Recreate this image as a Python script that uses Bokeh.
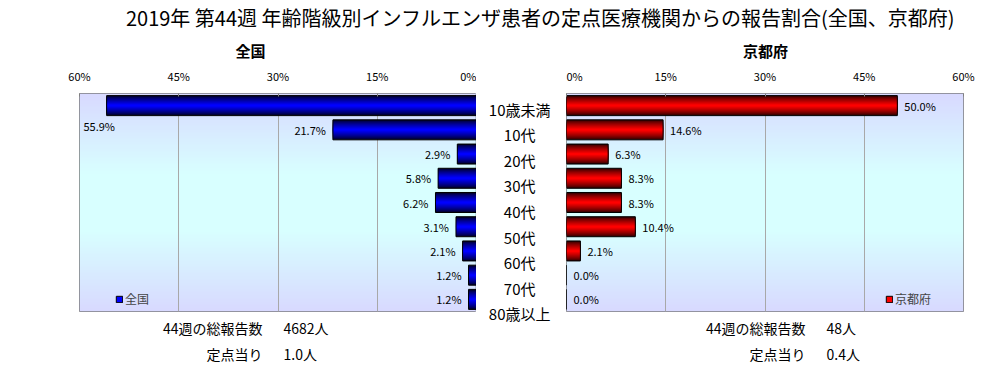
import numpy as np
from bokeh.plotting import figure
from bokeh.models import (Range1d, FactorRange, FixedTicker, Label, Legend,
                          LegendItem, ColumnDataSource)
from bokeh.layouts import column, row
from bokeh.embed import file_html
from bokeh.resources import INLINE
from bokeh.core.properties import value

# ---------------- data ----------------
main_title = "2019年 第44週 年齢階級別インフルエンザ患者の定点医療機関からの報告割合(全国、京都府)"
categories = ["10歳未満", "10代", "20代", "30代", "40代", "50代", "60代", "70代", "80歳以上"]
national = [55.9, 21.7, 2.9, 5.8, 6.2, 3.1, 2.1, 1.2, 1.2]
kyoto = [50.0, 14.6, 6.3, 8.3, 8.3, 10.4, 2.1, 0.0, 0.0]
tick_values = [0, 15, 30, 45, 60]
tick_labels = ["0%", "15%", "30%", "45%", "60%"]
panel_titles = ["全国", "京都府"]
summary_labels = ["44週の総報告数", "定点当り"]
national_summary = ["4682人", "1.0人"]
kyoto_summary = ["48人", "0.4人"]

JP = "Noto Sans CJK JP"
AXMAX = 60
factors = list(reversed(categories))


def blank(width, height):
    f = figure(width=width, height=height, x_range=Range1d(0, 1), y_range=Range1d(0, 1),
               x_axis_location=None, y_axis_location=None,
               toolbar_location=None, output_backend="svg", min_border=0)
    f.outline_line_color = None
    f.xgrid.visible = False
    f.ygrid.visible = False
    return f


def make_panel(vals, reverse, dark, bright, legend_label, width, mbl, mbr, legend_x):
    xr = Range1d(AXMAX, 0) if reverse else Range1d(0, AXMAX)
    p = figure(width=width, height=256, x_range=xr,
               y_range=FactorRange(factors=factors),
               x_axis_location="above", y_axis_location=None,
               toolbar_location=None, output_backend="svg",
               min_border_left=mbl, min_border_right=mbr,
               min_border_top=31, min_border_bottom=7)
    p.outline_line_color = "#808080"
    p.outline_line_width = 1
    p.border_fill_color = "white"

    # gradient background (lavender -> cyan -> lavender)
    n = 218
    edges = np.linspace(0, len(categories), n + 1)
    centers = (edges[:-1] + edges[1:]) / 2
    t = 1 - centers / len(categories)
    g = 204 + 51 * np.clip((1 - np.abs(2 * t - 1)) * 1.35, 0, 1)
    cols = ["#%02x%02x%02x" % (204, int(round(v)), 255) for v in g]
    bg = p.quad(left=0, right=AXMAX, bottom=edges[:-1], top=edges[1:],
                fill_color=cols, line_color=None)
    bg.level = "image"

    # axis
    ax = p.xaxis[0]
    ax.ticker = FixedTicker(ticks=tick_values)
    ax.major_label_overrides = {v: l for v, l in zip(tick_values, tick_labels)}
    ax.axis_line_color = None
    ax.major_tick_out = 0
    ax.major_tick_in = 3
    ax.major_tick_line_color = "#808080"
    ax.minor_tick_line_color = None
    ax.major_label_text_font = JP
    ax.major_label_text_font_size = "11px"
    ax.major_label_text_color = "black"
    ax.major_label_standoff = 10
    p.xgrid.ticker = FixedTicker(ticks=tick_values)
    p.xgrid.grid_line_color = "#a8a8a8"
    p.ygrid.grid_line_color = None

    src = ColumnDataSource(dict(y=categories, v=vals,
                                lab=["%.1f%%" % v for v in vals]))
    # gradient bars: layered hbars, dark at edges, bright in centre
    H = 0.826
    K = 10
    layers = []
    for k in range(K):
        f = (k / (K - 1)) ** 0.8
        c = tuple(int(round(d + (b - d) * f)) for d, b in zip(dark, bright))
        layers.append(p.hbar(y="y", left=0, right="v", height=H * (1 - k / K), source=src,
                             fill_color="#%02x%02x%02x" % c, line_color=None))
    outline = p.hbar(y="y", left=0, right="v", height=H, source=src,
                     fill_color=None, line_color="black", line_width=1)

    # value labels
    if reverse:
        fit = [v < 52 for v in vals]
        s_fit = ColumnDataSource(dict(y=[c for c, f in zip(categories, fit) if f],
                                      v=[v for v, f in zip(vals, fit) if f],
                                      lab=["%.1f%%" % v for v, f in zip(vals, fit) if f]))
        s_out = ColumnDataSource(dict(y=[c for c, f in zip(categories, fit) if not f],
                                      v=[AXMAX for v, f in zip(vals, fit) if not f],
                                      lab=["%.1f%%" % v for v, f in zip(vals, fit) if not f]))
        p.text(x="v", y="y", text="lab", source=s_fit, x_offset=-7,
               text_align="right", text_baseline="middle",
               text_font=value(JP), text_font_size="11px", text_color="black")
        p.text(x="v", y="y", text="lab", source=s_out, x_offset=4, y_offset=20,
               text_align="left", text_baseline="middle",
               text_font=value(JP), text_font_size="11px", text_color="black")
    else:
        p.text(x="v", y="y", text="lab", source=src, x_offset=7,
               text_align="left", text_baseline="middle",
               text_font=value(JP), text_font_size="11px", text_color="black")

    # legend
    leg = Legend(items=[LegendItem(label=legend_label, renderers=[layers[-1], outline])],
                 location=(legend_x, 4), glyph_width=8, glyph_height=8,
                 label_height=8, label_width=0, label_standoff=2,
                 padding=0, margin=0, spacing=0,
                 border_line_color=None, background_fill_alpha=0,
                 label_text_font=JP, label_text_font_size="12px")
    p.add_layout(leg)
    return p


def make_summary(width, right_x, values):
    b = blank(width, 47)
    for i, (lab, val) in enumerate(zip(summary_labels, values)):
        yy = 38 - 26 * i
        b.add_layout(Label(x=right_x, y=yy, x_units="screen", y_units="screen",
                           text=lab, text_align="right", text_baseline="middle",
                           text_font=JP, text_font_size="14px", text_color="black"))
        b.add_layout(Label(x=right_x + 21, y=yy, x_units="screen", y_units="screen",
                           text=val, text_align="left", text_baseline="middle",
                           text_font=JP, text_font_size="14px", text_color="black"))
    return b


left = make_panel(national, True, (0, 0, 40), (0, 0, 255), panel_titles[0],
                  476, 79, 0, 36)
right = make_panel(kyoto, False, (48, 0, 0), (255, 0, 0), panel_titles[1],
                   440, 0, 43, 319)
# the summary strips' frames are aligned with the panel frames above them
left_bot = make_summary(476, 183, national_summary)
right_bot = make_summary(440, 239, kyoto_summary)

# middle category labels
mid = figure(width=90, height=303, x_range=Range1d(0, 1),
             y_range=FactorRange(factors=factors),
             x_axis_location=None, y_axis_location=None,
             toolbar_location=None, output_backend="svg",
             min_border=0, min_border_left=0, min_border_right=0,
             min_border_top=34, min_border_bottom=39)
mid.outline_line_color = None
mid.xgrid.visible = False
mid.ygrid.visible = False
mid.text(x=0.48, y=categories, text=categories, text_align="center",
         text_baseline="middle", text_font=value(JP), text_font_size="15px",
         text_color="black")

# title strip with panel titles
top = blank(1006, 62)
top.add_layout(Label(x=540, y=45, x_units="screen", y_units="screen",
                     text=main_title, text_align="center", text_baseline="middle",
                     text_font=JP, text_font_size="20px", text_color="black"))
for tx, tt in zip([250, 765], panel_titles):
    top.add_layout(Label(x=tx, y=12, x_units="screen", y_units="screen",
                         text=tt, text_align="center", text_baseline="middle",
                         text_font=JP, text_font_size="15px",
                         text_font_style="bold", text_color="black"))

layout = column(top, row(column(left, left_bot), mid, column(right, right_bot)))
open("out.html", "w").write(file_html(layout, INLINE))
